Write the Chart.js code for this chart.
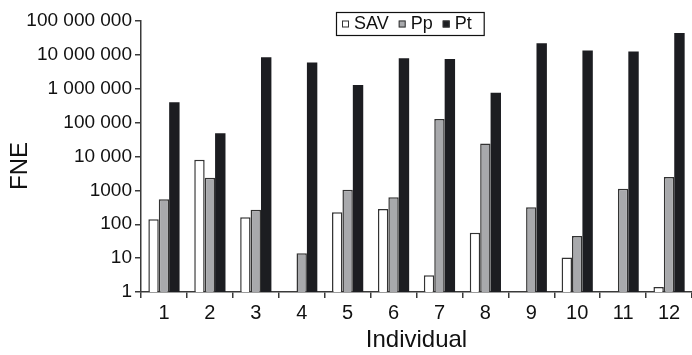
<!DOCTYPE html>
<html>
<head>
<meta charset="utf-8">
<script src="https://cdn.jsdelivr.net/npm/chart.js@4.4.0/dist/chart.umd.min.js"></script>
<style>
  html, body { margin: 0; padding: 0; background: #fff; }
  #wrap { width: 692px; height: 355px; }
</style>
</head>
<body>
<div id="wrap"><canvas id="fne" width="692" height="355"></canvas></div>
<script>
// values
const categories = ['1', '2', '3', '4', '5', '6', '7', '8', '9', '10', '11', '12'];
const savValues = [140, 8000, 160, null, 225, 280, 3.1, 56, null, 10.4, null, 1.4];
const ppValues = [550, 2350, 270, 14, 1040, 630, 129000, 24000, 320, 45, 1120, 2500];
const ptValues = [400000, 48500, 8500000, 6000000, 1300000, 8000000, 7500000, 760000, 22000000, 13500000, 12600000, 44000000];
const yTickValues = [1, 10, 100, 1000, 10000, 100000, 1000000, 10000000, 100000000];
const yTickLabels = ['1', '10', '100', '1000', '10 000', '100 000', '1 000 000', '10 000 000', '100 000 000'];

const axisCol = '#3a3a3a';
const txtCol = '#111';
const FONT = '"Liberation Sans", Arial, sans-serif';

// legend box drawn inside the plot, like the original; plus the rotated y title
const boxLegend = {
    id: 'boxLegend',
    afterDraw(chart) {
        const ctx = chart.ctx;
        const x0 = 336, y0 = 12, h = 23, mk = 7;
        ctx.save();
        ctx.font = '18px ' + FONT;
        ctx.textBaseline = 'middle';
        let x = x0 + 6;
        const cy = y0 + h / 2 + 0.5;
        const items = chart.data.datasets.map(ds => {
            const w = ctx.measureText(ds.label).width;
            return { ds, w };
        });
        let total = 6;
        items.forEach((it, i) => { total += mk + 5 + it.w + (i < items.length - 1 ? 10 : 12); });
        ctx.fillStyle = '#fff';
        ctx.fillRect(x0, y0, total, h);
        ctx.strokeStyle = txtCol;
        ctx.lineWidth = 1.2;
        ctx.strokeRect(x0 + 0.5, y0 + 0.5, total, h);
        items.forEach(it => {
            ctx.fillStyle = it.ds.backgroundColor;
            ctx.fillRect(x, cy - mk / 2, mk, mk);
            ctx.strokeStyle = '#333';
            ctx.lineWidth = 1;
            ctx.strokeRect(x + 0.5, cy - mk / 2 + 0.5, mk - 1, mk - 1);
            x += mk + 5;
            ctx.fillStyle = txtCol;
            ctx.fillText(it.ds.label, x, cy);
            x += it.w + 10;
        });

        // y axis title
        ctx.translate(20, 166);
        ctx.rotate(-Math.PI / 2);
        ctx.font = '24px ' + FONT;
        ctx.textAlign = 'center';
        ctx.fillStyle = txtCol;
        ctx.fillText('FNE', 0, 0);
        ctx.restore();
    }
};

const barBase = { barPercentage: 1.0, categoryPercentage: 0.68, borderWidth: 1.5, borderColor: '#333' };

new Chart(document.getElementById('fne').getContext('2d'), {
    type: 'bar',
    data: {
        labels: categories,
        datasets: [
            Object.assign({ label: 'SAV', data: savValues, backgroundColor: '#ffffff' }, barBase),
            Object.assign({ label: 'Pp', data: ppValues, backgroundColor: '#a8a9ac' }, barBase),
            Object.assign({ label: 'Pt', data: ptValues, backgroundColor: '#1c1d21' }, barBase, { borderWidth: 0, inflateAmount: 0 })
        ]
    },
    options: {
        responsive: false,
        devicePixelRatio: 1,
        animation: false,
        layout: { padding: { top: 21, right: 0, left: 0, bottom: 0 } },
        plugins: { legend: { display: false }, tooltip: { enabled: false } },
        scales: {
            x: {
                grid: { offset: true, drawOnChartArea: false, tickLength: 6, color: axisCol, lineWidth: 1.5 },
                border: { color: axisCol, width: 1.5 },
                ticks: { font: { family: FONT, size: 20 }, color: txtCol, padding: 3 },
                title: { display: true, text: 'Individual', color: txtCol, font: { family: FONT, size: 24 }, padding: { top: 0, bottom: 0 } },
                afterFit: s => { s.height = 63; }
            },
            y: {
                type: 'logarithmic',
                min: 1,
                max: 100000000,
                afterBuildTicks: s => { s.ticks = yTickValues.map(v => ({ value: v })); },
                grid: { drawOnChartArea: false, tickLength: 6, color: axisCol, lineWidth: 1.5 },
                border: { color: axisCol, width: 1.5 },
                ticks: {
                    autoSkip: false,
                    font: { family: FONT, size: 19 },
                    color: txtCol,
                    padding: 3,
                    callback: v => yTickLabels[yTickValues.indexOf(v)]
                },
                afterFit: s => { s.width = 141; }
            }
        }
    },
    plugins: [boxLegend]
});
</script>
</body>
</html>
